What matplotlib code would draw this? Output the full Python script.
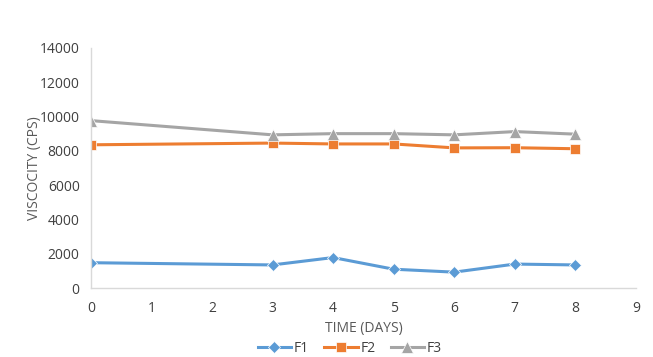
import matplotlib
matplotlib.use("Agg")
import matplotlib.pyplot as plt

plt.rcParams['font.family'] = ['Open Sans', 'DejaVu Sans']

days = [0, 3, 4, 5, 6, 7, 8]
f1 = [1480, 1350, 1780, 1100, 930, 1400, 1350]
f2 = [8350, 8450, 8400, 8400, 8170, 8180, 8120]
f3 = [9760, 8930, 9000, 9000, 8930, 9120, 8970]

fig = plt.figure(figsize=(6.53, 3.57), dpi=100)
ax = fig.add_axes([0.139, 0.193, 0.835, 0.673])

ax.plot(days, f1, color='#5B9BD5', marker='D', markersize=6, linewidth=2.2, label='F1',
        markeredgecolor='white', markeredgewidth=0.5)
ax.plot(days, f2, color='#ED7D31', marker='s', markersize=7, linewidth=2.2, label='F2',
        markeredgecolor='white', markeredgewidth=0.5)
ax.plot(days, f3, color='#A5A5A5', marker='^', markersize=8, linewidth=2.2, label='F3',
        markeredgecolor='white', markeredgewidth=0.5)

ax.set_xlim(0, 9)
ax.set_ylim(0, 14000)
ax.set_xticks(range(0, 10))
ax.set_yticks(range(0, 14001, 2000))
for s in ['top', 'right']:
    ax.spines[s].set_visible(False)
for s in ['left', 'bottom']:
    ax.spines[s].set_color('#D9D9D9')
    ax.spines[s].set_linewidth(1)
ax.tick_params(axis='both', length=0, labelsize=10, colors='#404040')
ax.tick_params(axis='x', pad=9)
ax.tick_params(axis='y', pad=8)
ax.set_xlabel('TIME (DAYS)', fontsize=10, color='#595959', labelpad=4)
ax.set_ylabel('VISCOCITY (CPS)', fontsize=10, color='#595959', labelpad=-2)

ax.legend(loc='upper center', bbox_to_anchor=(0.475, -0.22), ncol=3, frameon=False,
          fontsize=10, handlelength=2.4, columnspacing=1.1, handletextpad=0.2,
          labelcolor='#404040', borderaxespad=0, borderpad=0)

fig.savefig('out.png', dpi=100)
